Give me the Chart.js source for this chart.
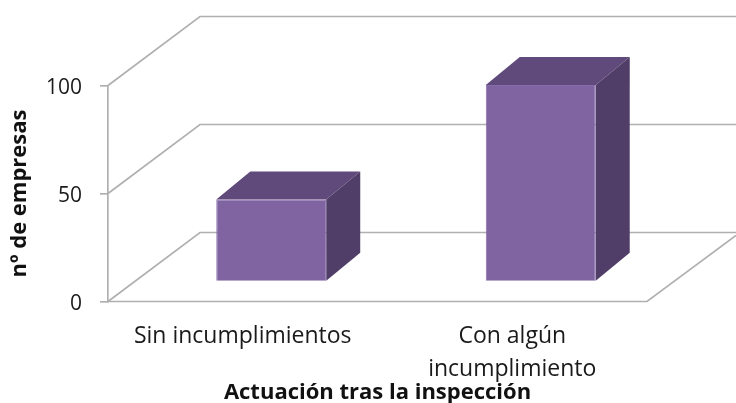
<!DOCTYPE html>
<html>
<head>
<meta charset="utf-8">
<style>html,body{margin:0;padding:0;background:#fff}#w{width:736px;height:403px}</style>
<script src="https://cdn.jsdelivr.net/npm/chart.js@4"></script>
</head>
<body>
<div id="w"><canvas id="c" width="736" height="403"></canvas></div>
<script>
const categories = [['Sin incumplimientos'], ['Con algún', 'incumplimiento']];
const empresas = [38, 91];
const yTicks = [0, 50, 100];
const xTitle = 'Actuación tras la inspección';
const yTitle = 'nº de empresas';

const FONT = '"Open Sans", sans-serif';
const GRID = '#b0b0b0';
const WALL_DX = 92, WALL_DY = -69, FLOOR_END_X = 736, FLOOR_DX = 89, FLOOR_DY = -66;
const BAR_DX = 28.5, BAR_DY = -20, DEPTH_DX = 34, DEPTH_DY = -28;

const scene3d = {
  id: 'scene3d',
  beforeDatasetsDraw(chart) {
    const { ctx, scales: { y }, chartArea: a } = chart;
    ctx.save();
    ctx.strokeStyle = GRID;
    ctx.lineWidth = 1.7;
    yTicks.forEach(v => {
      const py = y.getPixelForValue(v);
      ctx.beginPath();
      ctx.moveTo(a.left, py);
      ctx.lineTo(a.left + WALL_DX, py + WALL_DY);
      ctx.lineTo(FLOOR_END_X, py + WALL_DY);
      ctx.stroke();
    });
    const py0 = y.getPixelForValue(0);
    ctx.beginPath();
    ctx.moveTo(a.left, py0);
    ctx.lineTo(a.right, py0);
    ctx.lineTo(a.right + FLOOR_DX, py0 + FLOOR_DY);
    ctx.stroke();
    ctx.restore();
  },
  beforeDatasetDraw(chart, args) {
    const { ctx } = chart;
    ctx.save();
    ctx.translate(BAR_DX, BAR_DY);
    args.meta.data.forEach(bar => {
      const l = bar.x - bar.width / 2, r = bar.x + bar.width / 2, t = bar.y, b = bar.base;
      ctx.fillStyle = '#604A7B';
      ctx.beginPath();
      ctx.moveTo(l, t); ctx.lineTo(l + DEPTH_DX, t + DEPTH_DY);
      ctx.lineTo(r + DEPTH_DX, t + DEPTH_DY); ctx.lineTo(r, t);
      ctx.closePath(); ctx.fill();
      ctx.fillStyle = '#513E68';
      ctx.beginPath();
      ctx.moveTo(r, t); ctx.lineTo(r + DEPTH_DX, t + DEPTH_DY);
      ctx.lineTo(r + DEPTH_DX, b + DEPTH_DY); ctx.lineTo(r, b);
      ctx.closePath(); ctx.fill();
    });
  },
  afterDatasetDraw(chart) {
    chart.ctx.restore();
  }
};

new Chart(document.getElementById('c'), {
  type: 'bar',
  data: {
    labels: categories,
    datasets: [{
      data: empresas,
      backgroundColor: '#8064A2',
      borderColor: '#866ca8',
      borderWidth: 1,
      barPercentage: 0.408,
      categoryPercentage: 1,
      clip: false
    }]
  },
  options: {
    responsive: false,
    animation: false,
    layout: { padding: { top: 85.5, right: 89, left: 0, bottom: 0 } },
    plugins: { legend: { display: false }, tooltip: { enabled: false }, title: { display: false } },
    scales: {
      x: {
        afterFit(s) { s.height = 101.5; },
        grid: { display: false, drawTicks: false },
        border: { display: false },
        ticks: {
          color: '#1a1a1a', font: { family: FONT, size: 23, lineHeight: 1.42 },
          padding: 19, maxRotation: 0, autoSkip: false
        },
        title: {
          display: true, text: xTitle, color: '#111',
          font: { family: FONT, size: 22, weight: 'bold' }, padding: { top: 0, bottom: -3 }
        }
      },
      y: {
        min: 0, max: 100,
        afterFit(s) { s.width = 108; },
        afterBuildTicks(s) { s.ticks = yTicks.map(v => ({ value: v })); },
        grid: { drawOnChartArea: false, color: GRID, lineWidth: 1.7, tickLength: 8 },
        border: { color: GRID, width: 1.7 },
        ticks: { color: '#1a1a1a', font: { family: FONT, size: 21 }, padding: 18, labelOffset: 3 },
        title: {
          display: true, text: yTitle, color: '#111',
          font: { family: FONT, size: 22, weight: 'bold' }, padding: { top: 7, bottom: 0 }
        }
      }
    }
  },
  plugins: [scene3d]
});
</script>
</body>
</html>
